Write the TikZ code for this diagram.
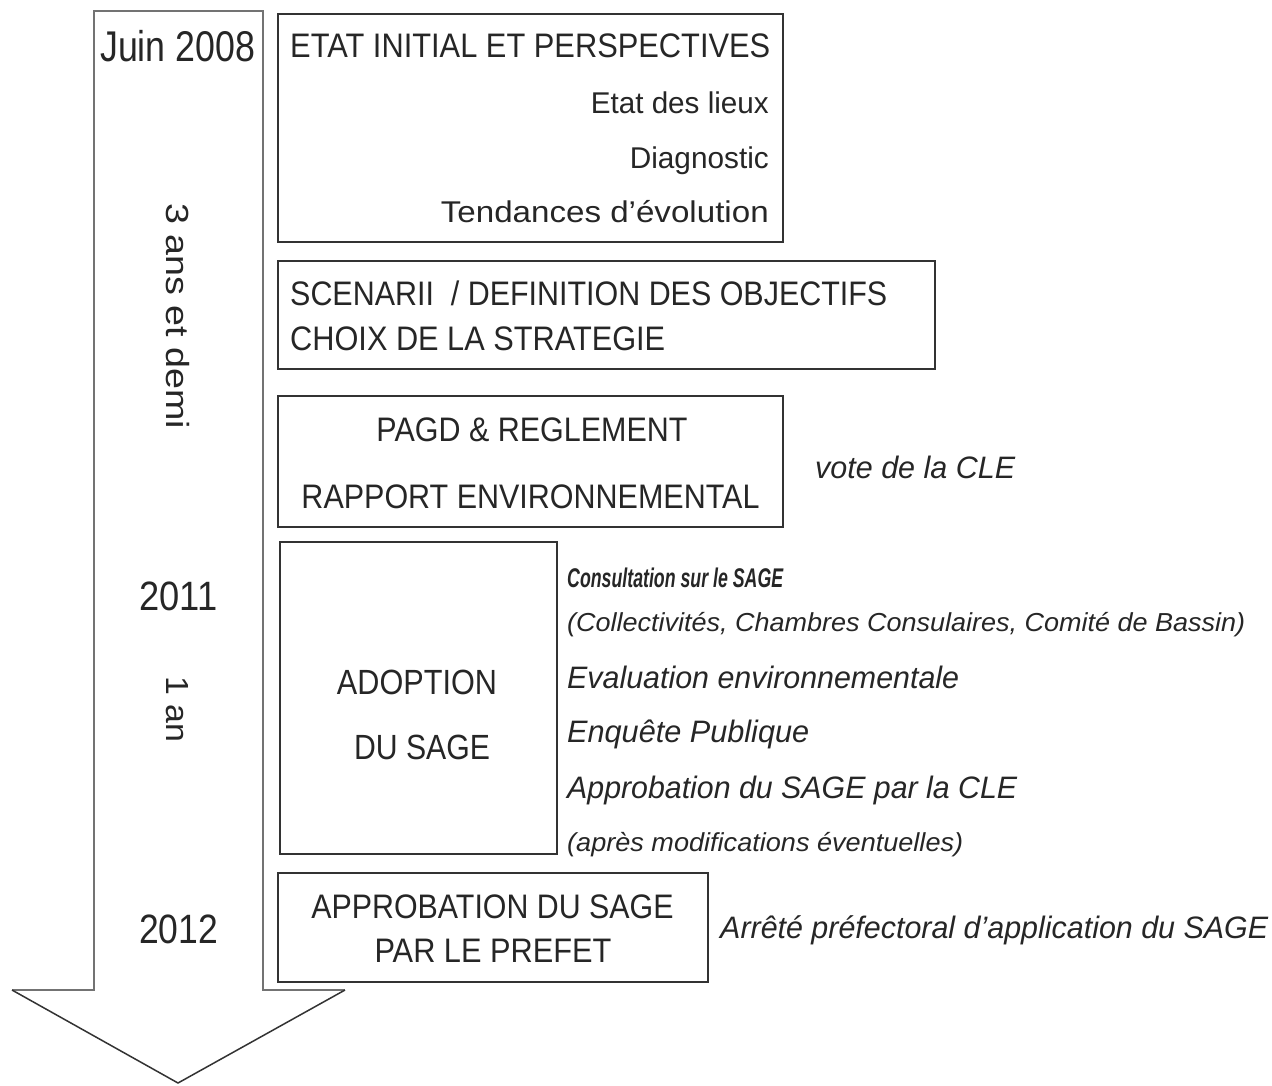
\documentclass[tikz,border=0pt]{standalone}
\usepackage{fontspec}
\setmainfont{Liberation Sans}
\usepackage{graphicx}
\newcommand\fw[3]{\resizebox{#1pt}{\height}{\fontsize{#2pt}{#2pt}\selectfont #3}}
\begin{document}
\begin{tikzpicture}[x=1pt,y=-1pt]
\tikzset{
  box/.style={draw=black!80, line width=1.6pt, inner sep=0pt},
  lbl/.style={inner sep=0pt, text=black!85},
  shaft/.style={draw=black!55, line width=1.8pt, line join=miter},
  head/.style={draw=black!80, line width=1.5pt}
}
\useasboundingbox[fill=white] (0,0) rectangle (1272,1085);
% timeline arrow
\coordinate (sl) at (94,990);
\coordinate (stl) at (94,11);
\coordinate (str) at (263,11);
\coordinate (sr) at (263,990);
\coordinate (wr) at (345,990);
\coordinate (tip) at (178,1083);
\coordinate (wl) at (12,990);
\draw[shaft] (wr) -- (sr) -- (str) -- (stl) -- (sl) -- (wl);
\draw[head] (wl) -- (tip) -- (wr);
% boxes
\node[box, anchor=north west, minimum width=505pt, minimum height=228pt] (b1) at (277,13) {};
\node[box, anchor=north west, minimum width=657pt, minimum height=108pt] (b2) at (277,260) {};
\node[box, anchor=north west, minimum width=505pt, minimum height=131pt] (b3) at (277,395) {};
\node[box, anchor=north west, minimum width=277pt, minimum height=312pt] (b4) at (279,541) {};
\node[box, anchor=north west, minimum width=430pt, minimum height=109pt] (b5) at (277,872) {};
% timeline labels
\node[lbl, anchor=base west] (juin) at (100,61) {\fw{155}{43}{Juin 2008}};
\node[lbl, anchor=base west, rotate=-90] (dur1) at (166.5,203) {\fw{226}{32}{3 ans et demi}};
\node[lbl, anchor=base west] (y2011) at (139,610) {\fw{78}{41}{2011}};
\node[lbl, anchor=base west, rotate=-90] (dur2) at (166.5,676) {\fw{66}{32}{1 an}};
\node[lbl, anchor=base west] (y2012) at (139,943) {\fw{79}{41}{2012}};
% box 1
\node[lbl, anchor=base west] (t1) at (290,57) {\fw{480}{34}{ETAT INITIAL ET PERSPECTIVES}};
\node[lbl, anchor=base east] (t1a) at (769,113) {\fw{178}{30}{Etat des lieux}};
\node[lbl, anchor=base east] (t1b) at (769,168) {\fw{139}{30}{Diagnostic}};
\node[lbl, anchor=base east] (t1c) at (769,222) {\fw{328}{30}{Tendances d’évolution}};
% box 2
\node[lbl, anchor=base west] (t2a) at (290,305) {\fw{597}{34}{SCENARII\ \ / DEFINITION DES OBJECTIFS}};
\node[lbl, anchor=base west] (t2b) at (290,350) {\fw{375}{34}{CHOIX DE LA STRATEGIE}};
% box 3
\node[lbl, anchor=base] (t3a) at (532,441) {\fw{311}{34}{PAGD \& REGLEMENT}};
\node[lbl, anchor=base] (t3b) at (530.5,508) {\fw{458}{34}{RAPPORT ENVIRONNEMENTAL}};
\node[lbl, anchor=base west] (vote) at (815,478) {\fw{200}{31}{\itshape vote de la CLE}};
% box 4
\node[lbl, anchor=base] (t4a) at (417,694) {\fw{160}{35}{ADOPTION}};
\node[lbl, anchor=base] (t4b) at (422,759) {\fw{136}{35}{DU SAGE}};
\node[lbl, anchor=base west] (c1) at (567,587) {\fw{216}{27}{\bfseries\itshape Consultation sur le SAGE}};
\node[lbl, anchor=base west] (c2) at (567,631) {\fw{678}{26}{\itshape (Collectivités, Chambres Consulaires, Comité de Bassin)}};
\node[lbl, anchor=base west] (c3) at (567,688) {\fw{392}{31}{\itshape Evaluation environnementale}};
\node[lbl, anchor=base west] (c4) at (567,742) {\fw{242}{31}{\itshape Enquête Publique}};
\node[lbl, anchor=base west] (c5) at (567,798) {\fw{450}{31}{\itshape Approbation du SAGE par la CLE}};
\node[lbl, anchor=base west] (c6) at (567,851) {\fw{396}{26}{\itshape (après modifications éventuelles)}};
% box 5
\node[lbl, anchor=base] (t5a) at (492.5,918) {\fw{362}{34}{APPROBATION DU SAGE}};
\node[lbl, anchor=base] (t5b) at (493,962) {\fw{237}{34}{PAR LE PREFET}};
\node[lbl, anchor=base west] (arr) at (720,938) {\fw{548}{31}{\itshape Arrêté préfectoral d’application du SAGE}};
\end{tikzpicture}
\end{document}
